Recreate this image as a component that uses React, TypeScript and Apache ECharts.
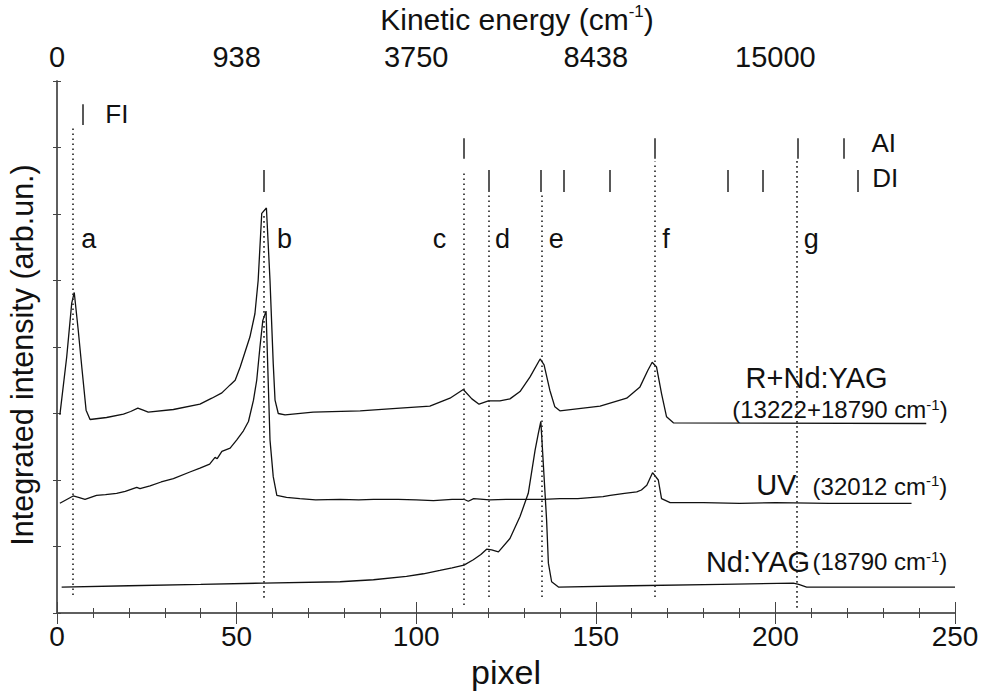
import React, { useEffect, useRef } from 'react';
import * as echarts from 'echarts';

// Top axis labels (kinetic energy, cm^-1) at pixel 0, 50, 100, 150, 200, 250
const kineticLabels = ['0', '938', '3750', '8438', '15000', ''];

// R+Nd:YAG (13222+18790 cm-1)
const rX = [0.8, 2.7, 4.1, 4.8, 5.9, 6.9, 8.1, 9.2, 13.8, 18.5, 20.5, 22.5, 24, 25.4, 32.4, 39.8, 43.1, 45.9, 48.2, 49.6, 51, 53.7, 55.1, 56, 57, 58.3, 59.3, 60.2, 60.7, 61.6, 63.5, 71.3, 84.4, 95.5, 103.8, 109.4, 113.1, 115.5, 117.5, 120.1, 123.3, 126.1, 128.9, 131.7, 134.5, 135.6, 137.2, 138.6, 140, 151.2, 158.6, 162.3, 164.5, 165.7, 166.9, 168.3, 169.7, 171.6, 242];
const rY = [2.98, 3.85, 4.66, 4.82, 4.26, 3.70, 3.05, 2.91, 2.94, 2.99, 3.03, 3.08, 3.05, 3.02, 3.06, 3.14, 3.23, 3.31, 3.43, 3.50, 3.70, 4.15, 4.5, 5.0, 6.01, 6.09, 5.0, 3.75, 3.2, 3.0, 2.98, 3.02, 3.04, 3.08, 3.11, 3.23, 3.36, 3.22, 3.14, 3.19, 3.19, 3.22, 3.33, 3.55, 3.82, 3.73, 3.35, 3.10, 3.04, 3.11, 3.23, 3.40, 3.65, 3.77, 3.70, 3.3, 2.95, 2.86, 2.85];

// UV (32012 cm-1)
const uvX = [0.8, 4.5, 6, 7.8, 11, 13.5, 16.6, 19, 22.2, 23.1, 25.9, 29, 32.4, 37, 39.8, 42.5, 43.1, 44, 44.6, 45.9, 48.2, 50, 51.9, 53.3, 54.7, 55.6, 56.5, 57.3, 58.2, 59.3, 60.2, 61.2, 63.9, 67.6, 72, 78.8, 84, 88.1, 95, 100, 104.8, 110, 113.3, 114.5, 116, 120.5, 125, 129.8, 135.4, 140, 145, 149.3, 152, 154, 158, 161.4, 162.7, 164.2, 165.8, 167.4, 168.3, 170.7, 180, 190, 200, 215, 237.9];
const uvY = [1.65, 1.76, 1.74, 1.71, 1.77, 1.78, 1.80, 1.83, 1.89, 1.87, 1.91, 1.97, 2.02, 2.12, 2.18, 2.24, 2.28, 2.34, 2.32, 2.43, 2.48, 2.60, 2.74, 2.88, 3.20, 3.50, 4.0, 4.4, 4.54, 2.6, 2.05, 1.77, 1.74, 1.72, 1.70, 1.71, 1.70, 1.71, 1.71, 1.70, 1.69, 1.71, 1.71, 1.68, 1.72, 1.70, 1.71, 1.71, 1.71, 1.72, 1.72, 1.74, 1.75, 1.77, 1.80, 1.82, 1.85, 1.92, 2.11, 2.0, 1.72, 1.66, 1.66, 1.65, 1.66, 1.65, 1.65];

// Nd:YAG (18790 cm-1)
const ndX = [1.3, 20, 40, 57.4, 78.8, 88.1, 97.3, 102, 106.6, 110, 113.3, 115.9, 118, 119.6, 121, 122.9, 126.1, 128.9, 131.2, 133.1, 134, 134.7, 136.3, 136.8, 137.7, 139.6, 160, 185, 205, 206.5, 208.7, 250];
const ndY = [0.39, 0.41, 0.43, 0.45, 0.47, 0.50, 0.55, 0.59, 0.64, 0.68, 0.72, 0.80, 0.88, 0.96, 0.95, 0.92, 1.12, 1.45, 1.80, 2.45, 2.70, 2.88, 1.40, 0.75, 0.47, 0.39, 0.41, 0.43, 0.45, 0.43, 0.39, 0.39];

// Dotted guide lines a..g
const guideLetters = ['a', 'b', 'c', 'd', 'e', 'f', 'g'];
const guideX = [4.5, 57.6, 113.3, 120.1, 134.9, 166.3, 206.0];
const guideTop = [7.29, 6.0, 6.66, 6.29, 6.29, 6.79, 6.81];
const guideBottom = [0.27, 0.23, 0.12, 0.24, 0.24, 0.24, 0.08];

// Series-limit markers
const fiX = [7.15];
const aiX = [113.1, 166.5, 206.2, 218.9];
const diX = [57.6, 120.1, 134.7, 141.2, 154.0, 186.6, 196.4, 222.9];

const FONT = 'Liberation Sans, Arial, Helvetica, sans-serif';
const INK = '#111111';

export default function App() {
  const ref = useRef<HTMLDivElement>(null);
  useEffect(() => {
    const chart = echarts.init(ref.current!, null, { renderer: 'svg' });
    const zip = (xs: number[], ys: number[]) => xs.map((x, i) => [x, ys[i]]);
    const vline = (x: number, y1: number, y2: number) => [{ coord: [x, y1] }, { coord: [x, y2] }];

    // layout of annotations (data coordinates)
    const letterPos = [[9.0, 5.61], [63.5, 5.61], [106.6, 5.61], [124.2, 5.61], [139.1, 5.61], [169.7, 5.61], [210.1, 5.61]];
    const markerNamePos = [
      { text: 'FI', pos: [16.8, 7.49] },
      { text: 'AI', pos: [230.3, 7.06] },
      { text: 'DI', pos: [230.7, 6.54] },
    ];
    const curveLabels = [
      { text: 'R+Nd:YAG', pos: [231.4, 3.53], size: 29, sup: 15 },
      { text: '(13222+18790 cm{sup|-1})', pos: [248.1, 3.05], size: 24, sup: 15 },
      { text: 'UV', pos: [206.0, 1.92], size: 29, sup: 15 },
      { text: '(32012 cm{sup|-1})', pos: [248.0, 1.90], size: 24, sup: 15 },
      { text: 'Nd:YAG', pos: [209.8, 0.76], size: 29, sup: 15 },
      { text: '(18790 cm{sup|-1})', pos: [248.0, 0.76], size: 24, sup: 15 },
    ];

    const axisLineStyle = { color: '#555', width: 1.5 };
    const xBase = {
      type: 'value',
      min: 0,
      max: 250,
      interval: 50,
      axisLine: { show: true, lineStyle: axisLineStyle },
      axisTick: { show: true, inside: true, length: 11, lineStyle: { color: '#444', width: 1 } },
      minorTick: { show: true, splitNumber: 5, length: 5, lineStyle: { color: '#444', width: 1 } },
      splitLine: { show: false },
      minorSplitLine: { show: false },
    };
    const yBase = {
      type: 'value',
      min: 0,
      max: 8,
      interval: 1,
      axisLine: { show: true, lineStyle: axisLineStyle },
      axisTick: { show: true, inside: true, length: 4, lineStyle: { color: '#444', width: 1 } },
      axisLabel: { show: false },
      splitLine: { show: false },
    };
    const txt = { color: INK, fontFamily: FONT, opacity: 1, textBorderWidth: 0 };

    const option: any = {
      animation: false,
      backgroundColor: '#ffffff',
      textStyle: { fontFamily: FONT, color: INK },
      grid: { left: 57, right: 30, top: 81, bottom: 78, containLabel: false, outerBoundsMode: 'none' },
      xAxis: [
        {
          ...xBase,
          position: 'bottom',
          axisLabel: { fontSize: 28, color: INK, fontFamily: FONT, margin: 9 },
          name: 'pixel',
          nameLocation: 'middle',
          nameGap: 39,
          nameTextStyle: { fontSize: 34, color: INK, fontFamily: FONT },
        },
        {
          ...xBase,
          position: 'top',
          axisLabel: {
            fontSize: 29,
            color: INK,
            fontFamily: FONT,
            margin: 10,
            formatter: (v: number) => kineticLabels[Math.round(v / 50)] ?? '',
          },
          name: 'Kinetic energy (cm{sup|-1})',
          nameLocation: 'middle',
          nameGap: 46,
          nameTextStyle: {
            fontSize: 30,
            color: INK,
            fontFamily: FONT,
            padding: [0, 0, 0, 22],
            lineHeight: 32,
            rich: { sup: { fontSize: 17, verticalAlign: 'top', lineHeight: 32, fontFamily: FONT, color: INK } },
          },
        },
      ],
      yAxis: [
        {
          ...yBase,
          position: 'left',
          name: 'Integrated intensity (arb.un.)',
          nameLocation: 'middle',
          nameGap: 20,
          nameTextStyle: { fontSize: 30.5, color: INK, fontFamily: FONT, padding: [0, 16, 0, 0] },
        },
        { ...yBase, position: 'right' },
      ],
      series: [
        {
          type: 'line',
          name: 'R+Nd:YAG',
          data: zip(rX, rY),
          showSymbol: false,
          lineStyle: { color: INK, width: 1.3 },
          z: 3,
        },
        {
          type: 'line',
          name: 'UV',
          data: zip(uvX, uvY),
          showSymbol: false,
          lineStyle: { color: INK, width: 1.3 },
          z: 3,
        },
        {
          type: 'line',
          name: 'Nd:YAG',
          data: zip(ndX, ndY),
          showSymbol: false,
          lineStyle: { color: INK, width: 1.3 },
          z: 3,
        },
        {
          type: 'line',
          name: 'guides',
          data: [],
          markLine: {
            silent: true,
            symbol: ['none', 'none'],
            label: { show: false },
            lineStyle: { color: '#222', width: 1.6, type: [1.6, 3.4] },
            data: guideX.map((x, i) => vline(x, guideBottom[i], guideTop[i])),
          },
        },
        {
          type: 'line',
          name: 'markers',
          data: [],
          markLine: {
            silent: true,
            symbol: ['none', 'none'],
            label: { show: false },
            lineStyle: { color: '#222', width: 1.5, type: 'solid' },
            data: [
              ...fiX.map((x) => vline(x, 7.34, 7.65)),
              ...aiX.map((x) => vline(x, 6.83, 7.14)),
              ...diX.map((x) => vline(x, 6.33, 6.66)),
            ],
          },
        },
        {
          type: 'scatter',
          name: 'texts',
          symbolSize: 1,
          itemStyle: { color: 'transparent', opacity: 1 },
          silent: true,
          z: 5,
          data: [
            ...guideLetters.map((t, i) => ({
              value: letterPos[i],
              label: { show: true, formatter: t, fontSize: 27, position: [0, 0], align: 'center', verticalAlign: 'middle', ...txt },
            })),
            ...markerNamePos.map((m) => ({
              value: m.pos,
              label: { show: true, formatter: m.text, fontSize: 26, position: [0, 0], align: 'center', verticalAlign: 'middle', ...txt },
            })),
            ...curveLabels.map((c) => ({
              value: c.pos,
              label: {
                show: true,
                formatter: c.text,
                fontSize: c.size,
                lineHeight: c.size + 2,
                position: [0, 0],
                align: 'right',
                verticalAlign: 'middle',
                ...txt,
                rich: { sup: { fontSize: c.sup, verticalAlign: 'top', lineHeight: c.size + 2, color: INK, fontFamily: FONT } },
              },
            })),
          ],
        },
      ],
    };
    chart.setOption(option);
    return () => chart.dispose();
  }, []);
  return <div ref={ref} style={{ position: 'fixed', left: 0, top: 0, width: 985, height: 691 }} />;
}
